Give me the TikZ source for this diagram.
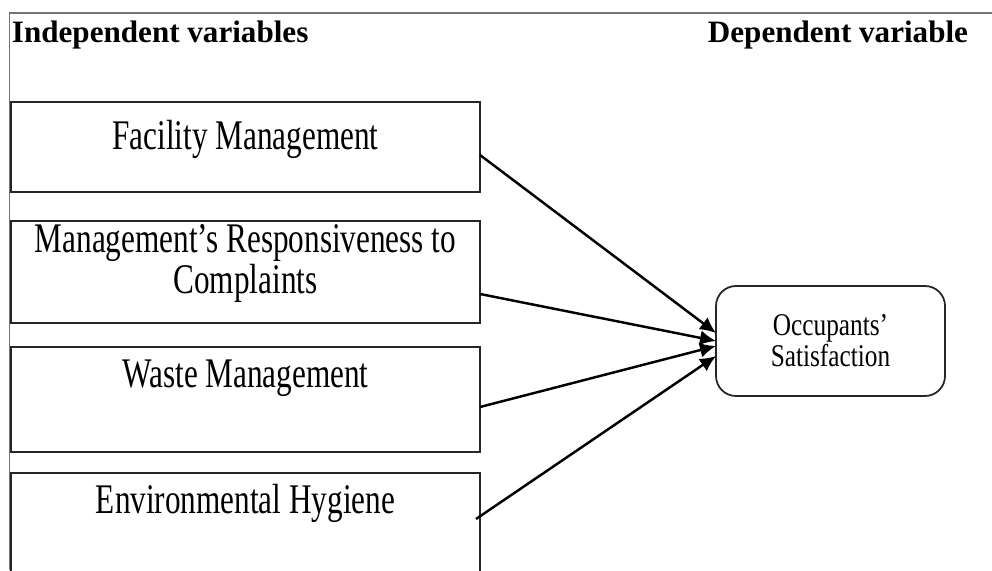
\documentclass[tikz,border=0pt]{standalone}
\usepackage{fontspec}
\setmainfont{Liberation Serif}
\newfontfamily\boxfont[FakeStretch=0.74]{Liberation Serif}
\newfontfamily\ovalfont[FakeStretch=0.8]{Liberation Serif}
\usetikzlibrary{arrows.meta}

\begin{document}
\begin{tikzpicture}[inner sep=0pt,outer sep=0pt,
varbox/.style={draw=black!85,rectangle,line width=1.1pt,text width=9.38cm,align=flush center,anchor=north,font=\boxfont\fontsize{24}{23}\selectfont},
depbox/.style={draw=black!85,rectangle,rounded corners=0.4cm,line width=1pt,minimum width=4.58cm,minimum height=2.2cm,align=center,font=\ovalfont\fontsize{18}{16}\selectfont},
heading/.style={anchor=base west,font=\bfseries\fontsize{17.7}{20}\selectfont},
>={Latex[length=0.32cm,width=0.3cm]}]
\useasboundingbox (0,0) rectangle (19.84,11.4);
\clip (0,0) rectangle (19.84,11.4);

% frame and headings
\draw[black!55,line width=0.9pt] (0.19,0) |- (19.84,11.14);
\draw (0.24,10.546) node[heading] (indep) {Independent variables};
\draw (19.36,10.54) node[heading,anchor=base east] (dep) {Dependent variable};

% independent variables
\draw (4.91,9.36) node[varbox,text height=0.96cm,text depth=0.84cm] (fm) {Facility Management};
\draw (4.91,6.98) node[varbox,text height=0.64cm,text depth=1.40cm] (mr) {Management’s Responsiveness to\\Complaints};
\draw (4.91,4.46) node[varbox,text height=0.8cm,text depth=1.3cm] (wm) {Waste Management};
\draw (4.91,1.94) node[varbox,text height=0.8cm,text depth=1.4cm] (eh) {Environmental Hygiene};

% dependent variable
\draw (16.61,4.58) node[depbox] (sat) {Occupants’\\Satisfaction};

\draw[->,line width=1.4pt] ([yshift=-0.16cm]fm.east) -- ([yshift=0.16cm]sat.west);
\draw[->,line width=1.4pt] ([yshift=-0.44cm]mr.east) -- (sat.west);
\draw[->,line width=1.4pt] ([yshift=-0.15cm]wm.east) -- ([yshift=-0.1cm]sat.west);
\draw[->,line width=1.4pt] ([shift={(-0.08,0.18)}]eh.east) -- ([yshift=-0.3cm]sat.west);
\end{tikzpicture}
\end{document}
